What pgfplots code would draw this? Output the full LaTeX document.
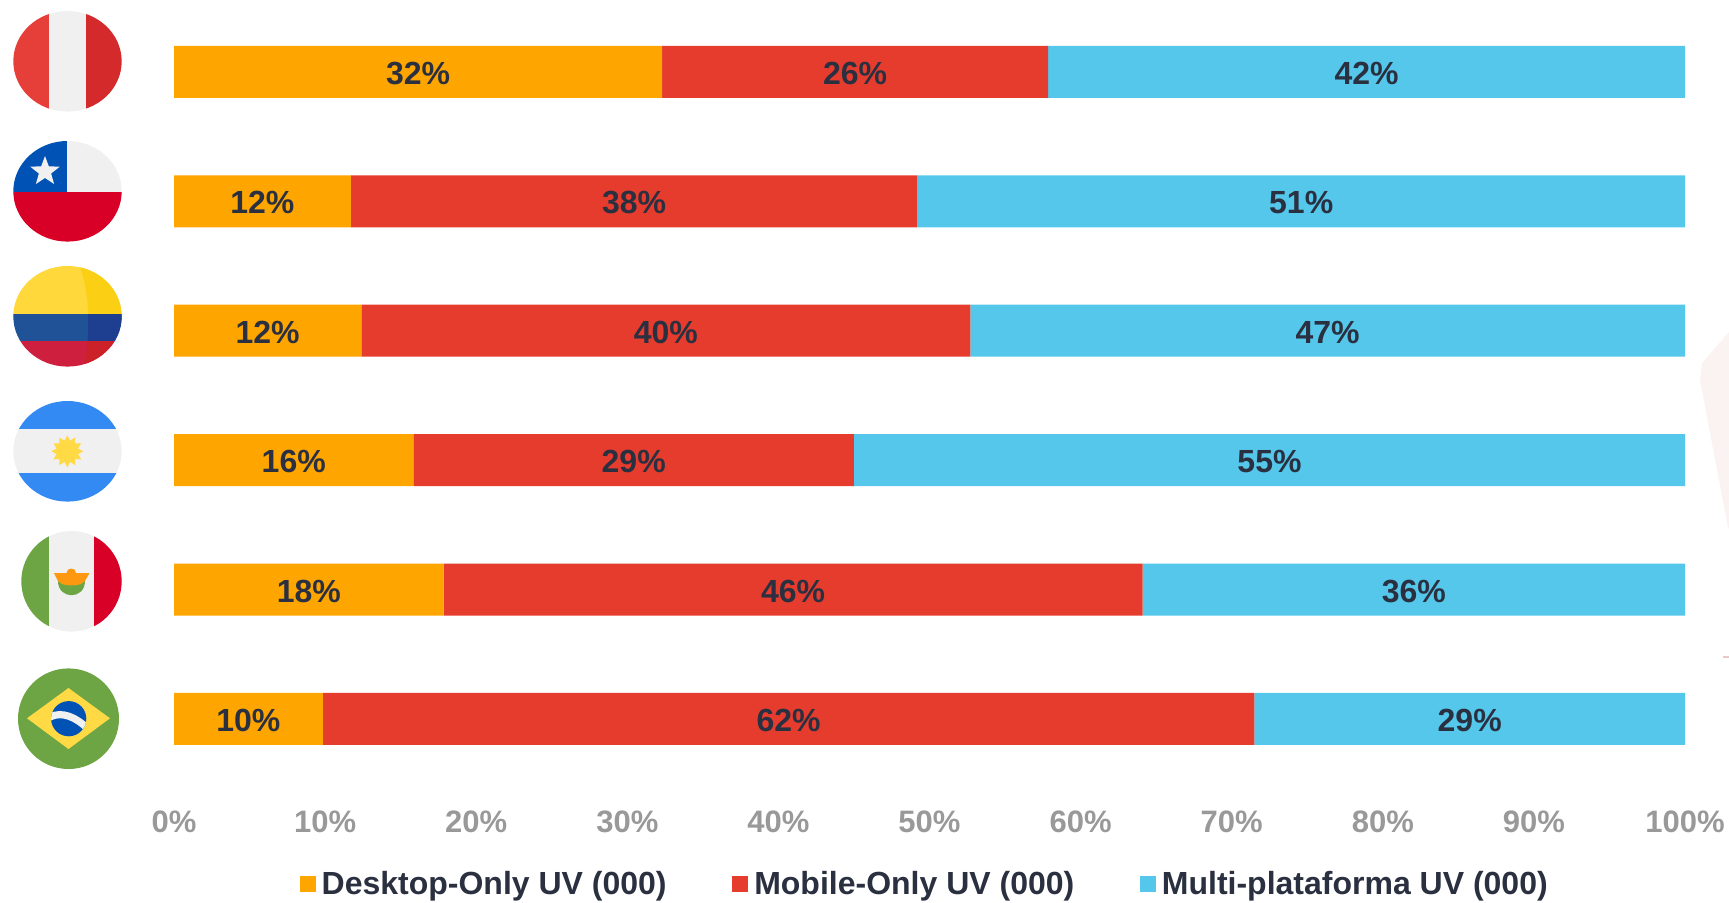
\documentclass[border=0pt]{standalone}
\usepackage{pgfplots}
\pgfplotsset{compat=1.18}
\usepackage{pgfplotstable}
\usepackage{fontspec}
\setmainfont{Liberation Sans}
\usetikzlibrary{shapes.geometric}

\definecolor{desk}{HTML}{FFA500}
\definecolor{mob}{HTML}{E53C2E}
\definecolor{multi}{HTML}{54C7EB}
\definecolor{ink}{HTML}{2A3040}
\definecolor{axisgrey}{HTML}{999999}
\definecolor{backdrop}{HTML}{FBF3F1}
\definecolor{backtick}{HTML}{E8C9C9}
\definecolor{peruL}{HTML}{E63F3A}
\definecolor{peruR}{HTML}{D52A2B}
\definecolor{flagwhite}{HTML}{F0F0F0}
\definecolor{flagblue}{HTML}{0052B4}
\definecolor{flagred}{HTML}{D80027}
\definecolor{colY}{HTML}{FFD83B}
\definecolor{colYd}{HTML}{FBCF13}
\definecolor{colB}{HTML}{1F5297}
\definecolor{colBd}{HTML}{1E3F8F}
\definecolor{colR}{HTML}{CE1F3F}
\definecolor{colRd}{HTML}{CC2128}
\definecolor{argblue}{HTML}{338AF3}
\definecolor{sun}{HTML}{FFDA44}
\definecolor{flaggreen}{HTML}{6DA544}
\definecolor{eagle}{HTML}{FF9811}

% country rows, bottom to top: Brazil, Mexico, Argentina, Colombia, Chile, Peru
\pgfplotstableread{
row desktop mobile multi
0 9.85 61.65 28.5
1 17.85 46.25 35.9
2 15.85 29.15 55.0
3 12.4 40.3 47.3
4 11.7 37.5 50.8
5 32.3 25.55 42.15
}\sharesdata

\begin{document}
\begin{tikzpicture}
\useasboundingbox (0,0) rectangle (864.5pt,451pt);

% faint background decoration at the right edge
\begin{scope}[shift={(0,451pt)},x=0.5pt,y=-0.5pt]
  \fill[backdrop] (1729,332) -- (1702,363) -- (1700,380) -- (1728,528) -- (1729,528) -- cycle;
  \draw[line width=0.6pt,backtick] (1723,657) -- (1729,657);
\end{scope}

\begin{axis}[
  at={(87pt,59.2pt)}, anchor=south west,
  scale only axis, width=755.5pt, height=388.2pt,
  xbar stacked, bar width=26pt,
  xmin=0, xmax=100, ymin=-0.5, ymax=5.5,
  ytick=\empty,
  xtick={0,10,...,100},
  xticklabels={0\%,10\%,20\%,30\%,40\%,50\%,60\%,70\%,80\%,90\%,100\%},
  axis line style={draw=none},
  major tick length=0pt,
  xticklabel style={
    font=\fontsize{15.5}{18}\selectfont\bfseries,
    text=axisgrey, yshift=-10pt},
  point meta=explicit,
  nodes near coords={\pgfmathprintnumber[fixed,precision=0,assume math mode=true]{\pgfplotspointmeta}\%},
  nodes near coords style={font=\fontsize{16}{18}\selectfont\bfseries,text=ink,yshift=-0.75pt},
  legend columns=3,
  legend style={
    at={(0.4975,-0.1293)}, anchor=center, draw=none, fill=none,
    font=\fontsize{16}{18}\selectfont\bfseries, text=ink,
    inner sep=0pt, outer sep=0pt,
    /tikz/every odd column/.style={column sep=1pt},
    /tikz/every even column/.style={column sep=30.8pt},
  },
  legend cell align=left,
  legend image code/.code={\fill[#1] (0pt,-4pt) rectangle (8pt,4pt);},
]
\addplot[fill=desk,draw=none] table[y=row,x=desktop,meta=desktop] {\sharesdata};
\addplot[fill=mob,draw=none] table[y=row,x=mobile,meta=mobile] {\sharesdata};
\addplot[fill=multi,draw=none] table[y=row,x=multi,meta=multi] {\sharesdata};
\legend{Desktop-Only UV (000),Mobile-Only UV (000),Multi-plataforma UV (000)}
\end{axis}

% round flags beside each row
\begin{scope}[shift={(0,451pt)},x=0.5pt,y=-0.5pt]
  % Peru
  \begin{scope}
    \clip (67.5,61.3) ellipse [x radius=54.2,y radius=50.3];
    \fill[peruL] (10,0) rectangle (50,120);
    \fill[flagwhite] (49.3,0) rectangle (86,120);
    \fill[peruR] (85.7,0) rectangle (125,120);
  \end{scope}
  % Chile
  \begin{scope}
    \clip (67.5,191.3) ellipse [x radius=54.2,y radius=50.3];
    \fill[flagwhite] (67,130) rectangle (125,192);
    \fill[flagblue] (10,130) rectangle (67.3,191.7);
    \fill[flagred] (10,191.7) rectangle (125,250);
  \end{scope}
  \node[star,star points=5,star point ratio=2.4,fill=flagwhite,minimum size=15.5pt,inner sep=0pt] at (45,171.5) {};
  % Colombia
  \begin{scope}
    \clip (67.5,316.3) ellipse [x radius=54.2,y radius=50.3];
    \fill[colY] (10,260) rectangle (125,315);
    \fill[colB] (10,314) rectangle (125,341);
    \fill[colR] (10,340.7) rectangle (125,375);
    \clip (78,262) .. controls (88,285) and (92,320) .. (84,372) -- (125,372) -- (125,262) -- cycle;
    \fill[colYd] (10,260) rectangle (125,315);
    \fill[colBd] (10,314) rectangle (125,341);
    \fill[colRd] (10,340.7) rectangle (125,375);
  \end{scope}
  % Argentina
  \begin{scope}
    \clip (67.5,451.3) ellipse [x radius=54.2,y radius=50.3];
    \fill[flagwhite] (10,425) rectangle (125,478);
    \fill[argblue] (10,395) rectangle (125,429.3);
    \fill[argblue] (10,473.3) rectangle (125,510);
  \end{scope}
  \node[star,star points=12,star point ratio=1.45,fill=sun,minimum size=16pt,inner sep=0pt] at (67.3,451.3) {};
  % Mexico
  \begin{scope}
    \clip (71.5,581.3) ellipse [x radius=50.2,y radius=50.3];
    \fill[flagwhite] (49,525) rectangle (94,640);
    \fill[flaggreen] (15,525) rectangle (49.3,640);
    \fill[flagred] (93.7,525) rectangle (125,640);
  \end{scope}
  \fill[flaggreen] (58,581) .. controls (58,600) and (85,600) .. (85,581) -- cycle;
  \fill[eagle] (54,573) -- (66.5,573) .. controls (66.5,567) and (76,567) .. (76,573)
     -- (89.5,573) -- (85,581) -- (81,584) .. controls (76,586) and (67,586) .. (62,584) -- (58,581) -- cycle;
  % Brazil
  \fill[flaggreen] (68.5,718.7) ellipse [x radius=50.5,y radius=50.3];
  \fill[sun] (27,718.3) -- (68.5,688) -- (110,718.3) -- (68.5,749) -- cycle;
  \begin{scope}
    \clip (68.7,718.7) ellipse [x radius=17.6,y radius=17.6];
    \fill[flagblue] (50,700) rectangle (88,738);
    \draw[flagwhite,line width=3.6pt] (50,717) .. controls (62,711) and (76,717) .. (88,729);
  \end{scope}
\end{scope}
\end{tikzpicture}
\end{document}
